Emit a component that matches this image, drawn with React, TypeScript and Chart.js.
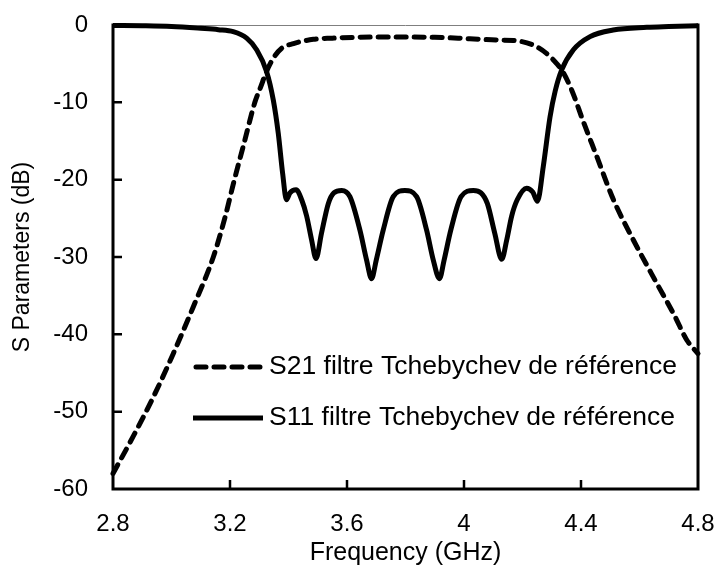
import React, { useEffect, useRef } from "react";
import { Chart, registerables } from "chart.js";

Chart.register(...registerables);

const FONT = "'Liberation Sans', Arial, Helvetica, sans-serif";

const xTickValues = [2.8, 3.2, 3.6, 4.0, 4.4, 4.8];
const xTickLabels = ["2.8", "3.2", "3.6", "4", "4.4", "4.8"];
const yTickValues = [0, -10, -20, -30, -40, -50, -60];
const yTickLabels = ["0", "-10", "-20", "-30", "-40", "-50", "-60"];

const xTitle = "Frequency (GHz)";
const yTitle = "S Parameters (dB)";
const s21Label = "S21 filtre Tchebychev de référence";
const s11Label = "S11 filtre Tchebychev de référence";

const s21Freq = [
  2.8, 2.869, 2.938, 3.006, 3.075, 3.143, 3.182, 3.215, 3.25, 3.285, 3.305,
  3.325, 3.348, 3.377, 3.417, 3.485, 3.55, 3.622, 3.7, 3.8, 3.9, 3.98, 4.055,
  4.12, 4.169, 4.237, 4.283, 4.317, 4.337, 4.368, 4.408, 4.454, 4.511, 4.579,
  4.659, 4.72, 4.761, 4.8,
];
const s21Db = [
  -58.0, -53.2, -48.1, -42.5, -36.4, -30.0, -25.0, -20.0, -15.0, -10.0, -8.0,
  -6.0, -4.3, -3.0, -2.4, -1.85, -1.7, -1.6, -1.55, -1.55, -1.6, -1.7, -1.85,
  -1.95, -2.0, -2.6, -3.7, -5.0, -6.0, -8.4, -12.5, -17.0, -22.6, -27.8,
  -33.4, -37.6, -40.7, -42.5,
];

const s11Freq = [
  2.8, 2.9, 3.0, 3.1, 3.16, 3.211, 3.257, 3.291, 3.325, 3.348, 3.365, 3.38,
  3.393, 3.405, 3.426, 3.445, 3.462, 3.479, 3.494, 3.513, 3.536, 3.555, 3.582,
  3.61, 3.644, 3.667, 3.684, 3.7, 3.724, 3.758, 3.798, 3.838, 3.872, 3.895,
  3.916, 3.932, 3.955, 3.99, 4.032, 4.058, 4.08, 4.105, 4.129, 4.146, 4.163,
  4.182, 4.214, 4.235, 4.251, 4.271, 4.294, 4.312, 4.334, 4.374, 4.431, 4.51,
  4.625, 4.7, 4.8,
];
const s11Db = [
  -0.05, -0.1, -0.2, -0.43, -0.6, -0.86, -1.7, -3.2, -6.0, -9.7, -14.0, -19.2,
  -22.6, -21.7, -21.3, -22.6, -24.7, -27.8, -30.2, -26.9, -23.1, -21.7, -21.4,
  -22.2, -26.5, -30.4, -32.8, -30.4, -26.5, -22.2, -21.4, -22.2, -26.5, -30.4,
  -32.8, -30.4, -26.5, -22.2, -21.4, -21.7, -23.1, -26.9, -30.3, -27.8, -24.7,
  -22.6, -21.1, -21.6, -22.8, -18.3, -11.9, -8.5, -5.8, -3.2, -1.5, -0.65,
  -0.3, -0.2, -0.1,
];

const framePlugin = {
  id: "framePlugin",
  beforeDatasetsDraw(chart: any) {
    const { ctx, chartArea, scales } = chart;
    const { left, right, top, bottom } = chartArea;
    ctx.save();
    ctx.strokeStyle = "#7f7f7f";
    ctx.lineWidth = 1;
    ctx.beginPath();
    ctx.moveTo(left, top + 0.5);
    ctx.lineTo(right, top + 0.5);
    ctx.stroke();
    ctx.strokeStyle = "#000";
    ctx.lineWidth = 3;
    ctx.lineCap = "square";
    ctx.beginPath();
    ctx.moveTo(left, top);
    ctx.lineTo(left, bottom);
    ctx.lineTo(right, bottom);
    ctx.lineTo(right, top);
    ctx.stroke();
    ctx.lineWidth = 2.5;
    ctx.lineCap = "butt";
    ctx.beginPath();
    yTickValues.forEach((v) => {
      if (v === 0 || v === -60) return;
      const y = scales.y.getPixelForValue(v);
      ctx.moveTo(left, y);
      ctx.lineTo(left + 9, y);
    });
    xTickValues.forEach((v, i) => {
      if (i === 0 || i === xTickValues.length - 1) return;
      const x = scales.x.getPixelForValue(v);
      ctx.moveTo(x, bottom);
      ctx.lineTo(x, bottom - 9);
    });
    ctx.stroke();
    ctx.restore();
  },
  afterDatasetsDraw(chart: any) {
    const { ctx, chartArea } = chart;
    ctx.save();
    const rows = [
      { y: 367, dash: [10, 8], text: chart.data.datasets[0].label },
      { y: 418, dash: [], text: chart.data.datasets[1].label },
    ];
    rows.forEach((r) => {
      ctx.strokeStyle = "#000";
      ctx.lineWidth = 5;
      ctx.lineCap = r.dash.length ? "round" : "butt";
      ctx.setLineDash(r.dash);
      ctx.beginPath();
      ctx.moveTo(r.dash.length ? 196 : 193, r.y);
      ctx.lineTo(r.dash.length ? 261 : 263, r.y);
      ctx.stroke();
      ctx.setLineDash([]);
      ctx.fillStyle = "#000";
      ctx.font = `26.5px ${FONT}`;
      ctx.textAlign = "left";
      ctx.textBaseline = "middle";
      ctx.fillText(r.text, 269, r.y);
    });
    ctx.fillStyle = "#000";
    ctx.font = `25px ${FONT}`;
    ctx.textAlign = "center";
    ctx.textBaseline = "middle";
    ctx.fillText(xTitle, (chartArea.left + chartArea.right) / 2, 553);
    ctx.font = `23px ${FONT}`;
    ctx.translate(23, (chartArea.top + chartArea.bottom) / 2);
    ctx.rotate(-Math.PI / 2);
    ctx.fillText(yTitle, 0, 0);
    ctx.restore();
  },
};

export default function App() {
  const canvasRef = useRef<HTMLCanvasElement | null>(null);

  useEffect(() => {
    const canvas = canvasRef.current;
    if (!canvas) return;
    const chart = new Chart(canvas, {
      type: "line",
      data: {
        datasets: [
          {
            label: s21Label,
            data: s21Freq.map((f, i) => ({ x: f, y: s21Db[i] })),
            borderColor: "#000",
            borderWidth: 5,
            borderDash: [10, 8],
            borderCapStyle: "round",
            pointRadius: 0,
            cubicInterpolationMode: "monotone",
            fill: false,
            clip: false,
          },
          {
            label: s11Label,
            data: s11Freq.map((f, i) => ({ x: f, y: s11Db[i] })),
            borderColor: "#000",
            borderWidth: 5,
            borderCapStyle: "butt",
            borderJoinStyle: "round",
            pointRadius: 0,
            cubicInterpolationMode: "monotone",
            fill: false,
            clip: false,
          },
        ],
      } as any,
      options: {
        responsive: false,
        animation: false,
        devicePixelRatio: 1,
        layout: { padding: { top: 25, right: 23, left: 0, bottom: 0 } },
        plugins: {
          legend: { display: false },
          tooltip: { enabled: false },
          title: { display: false },
        },
        scales: {
          x: {
            type: "linear",
            min: 2.8,
            max: 4.8,
            afterBuildTicks: (s: any) => {
              s.ticks = xTickValues.map((v) => ({ value: v }));
            },
            afterFit: (s: any) => {
              s.height = 90;
              s.paddingLeft = 0;
              s.paddingRight = 0;
              s.paddingTop = 0;
              s.paddingBottom = 0;
            },
            ticks: {
              callback: (v: any) => xTickLabels[xTickValues.indexOf(Number(v))] ?? "",
              font: { family: FONT, size: 24 },
              color: "#000",
              padding: 21,
              maxRotation: 0,
              autoSkip: false,
            },
            grid: { display: false, drawTicks: false },
            border: { display: false },
          },
          y: {
            type: "linear",
            min: -60,
            max: 0,
            afterBuildTicks: (s: any) => {
              s.ticks = yTickValues.map((v) => ({ value: v }));
            },
            afterFit: (s: any) => {
              s.width = 113;
              s.paddingLeft = 0;
              s.paddingRight = 0;
              s.paddingTop = 0;
              s.paddingBottom = 0;
            },
            ticks: {
              callback: (v: any) => yTickLabels[yTickValues.indexOf(Number(v))] ?? "",
              font: { family: FONT, size: 24 },
              color: "#000",
              padding: 25,
              autoSkip: false,
            },
            grid: { display: false, drawTicks: false },
            border: { display: false },
          },
        },
      } as any,
      plugins: [framePlugin],
    });
    return () => chart.destroy();
  }, []);

  return (
    <div style={{ position: "fixed", left: 0, top: 0, width: 721, height: 579, background: "#fff" }}>
      <canvas ref={canvasRef} width={721} height={579} style={{ display: "block" }} />
    </div>
  );
}
